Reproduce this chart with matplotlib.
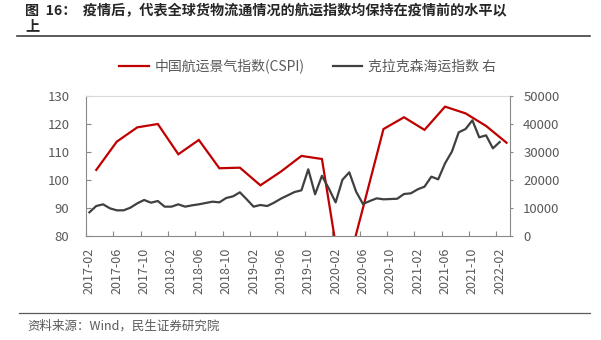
import matplotlib
matplotlib.use('Agg')
import matplotlib.pyplot as plt
from matplotlib.lines import Line2D
import numpy as np
import pandas as pd

plt.rcParams['font.family'] = ['Noto Sans CJK SC', 'DejaVu Sans']

# monthly categories on the x axis
months = [str(p) for p in pd.period_range('2017-02', '2022-03', freq='M')]
label_months = ['2017-02', '2017-06', '2017-10', '2018-02', '2018-06', '2018-10',
                '2019-02', '2019-06', '2019-10', '2020-02', '2020-06', '2020-10',
                '2021-02', '2021-06', '2021-10', '2022-02']

# China Shipping Prosperity Index (quarterly)
cspi_months = ['2017-03', '2017-06', '2017-09', '2017-12', '2018-03', '2018-06',
               '2018-09', '2018-12', '2019-03', '2019-06', '2019-09', '2019-12',
               '2020-03', '2020-06', '2020-09', '2020-12', '2021-03', '2021-06',
               '2021-09', '2021-12', '2022-03']
cspi_values = [103.6, 113.7, 118.8, 120.0, 109.2, 114.3,
               104.2, 104.4, 98.1, 103.0, 108.6, 107.5,
               62.0, 90.0, 118.2, 122.4, 117.9, 126.2,
               123.8, 119.3, 113.3]

# Clarksea index (monthly, right axis), 2017-02 .. 2022-02
clarksea_values = [8460, 10710, 11310, 9880, 9170, 9170, 10120, 11670, 12860, 11900,
                   12500, 10480, 10480, 11310, 10480, 10950, 11310, 11790, 12260, 12020,
                   13570, 14170, 15600, 13100, 10480, 11070, 10710, 11900, 13330, 14520,
                   15710, 16310, 23810, 14900, 21500, 17020, 12000, 20100, 22740, 15830,
                   11430, 12500, 13450, 13100, 13200, 13300, 15000, 15240, 16670, 17620,
                   21190, 20240, 25950, 30120, 37020, 38210, 41310, 35240, 35950, 31310,
                   33570]

red = '#C00000'
dark = '#404040'
txt = '#595959'
axis_col = '#898989'

fig = plt.figure(figsize=(6.01, 3.40), dpi=100)
ax = fig.add_axes([86/601, 1 - 236/340, (510 - 86)/601, 140/340])
ax2 = ax.twinx()

pos = {m: i for i, m in enumerate(months)}
cspi_x = [pos[m] for m in cspi_months]
ln1, = ax.plot(cspi_x, cspi_values, color=red, lw=1.6, solid_joinstyle='miter')
ln2, = ax2.plot(np.arange(len(clarksea_values)), clarksea_values, color=dark, lw=1.6)

ax.set_xlim(-0.5, len(months) - 0.5)
ax.set_ylim(80, 130)
ax.set_yticks(np.arange(80, 131, 10))
ax2.set_ylim(0, 50000)
ax2.set_yticks(np.arange(0, 50001, 10000))

# tick marks at category boundaries, labels at category centres
bounds = np.arange(-0.5, len(months) - 0.5, 4)
ax.set_xticks(bounds)
ax.set_xticklabels([])
ax.set_xticks([pos[m] for m in label_months], minor=True)
ax.set_xticklabels(label_months, minor=True, rotation=90)
ax.tick_params(axis='x', which='major', direction='in', length=3.6, color=axis_col)
ax.tick_params(axis='x', which='minor', length=0, pad=8.5, labelsize=9, labelcolor=txt)
ax.tick_params(axis='y', direction='in', length=3.6, color=axis_col, pad=12,
               labelsize=9.5, labelcolor=txt)
ax2.tick_params(axis='y', direction='out', length=2.5, color=axis_col, pad=7,
                labelsize=9.5, labelcolor=txt)

for s in ['left', 'bottom']:
    ax.spines[s].set_color(axis_col)
ax.spines['right'].set_visible(False)
ax.spines['top'].set_color('#d9d9d9')
for s in ['left', 'bottom', 'top']:
    ax2.spines[s].set_visible(False)
ax2.spines['right'].set_color(axis_col)

fig.legend([ln1, ln2], ['中国航运景气指数(CSPI)', '克拉克森海运指数 右'],
           loc='center', bbox_to_anchor=(0.512, 1 - 66/340), ncol=2, frameon=False,
           fontsize=10, handlelength=2.1, handletextpad=0.45, columnspacing=2.0,
           labelcolor=txt)

# title and rules
fig.text(25/601, 1 - 4/340, '图  16：  疫情后，代表全球货物流通情况的航运指数均保持在疫情前的水平以\n上',
         fontsize=10.2, fontweight='bold', color='#262626', va='top', ha='left',
         linespacing=1.1)
fig.add_artist(Line2D([17/601, 590/601], [1 - 35.5/340] * 2, color='#404040', lw=1.2,
                      transform=fig.transFigure))
fig.add_artist(Line2D([19/601, 590/601], [1 - 313/340] * 2, color='#595959', lw=0.9,
                      transform=fig.transFigure))
fig.text(27/601, 1 - 326/340, '资料来源：Wind，民生证券研究院', fontsize=9, color=txt,
         va='center', ha='left')

fig.savefig('out.png', dpi=100)
